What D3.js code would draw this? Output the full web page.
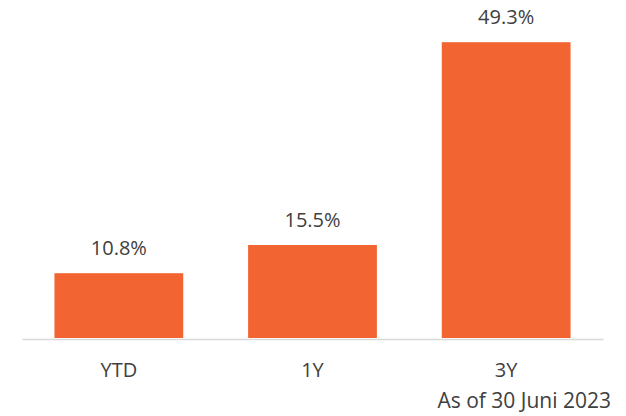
<!DOCTYPE html>
<html>
<head>
<meta charset="utf-8">
<script src="https://cdn.jsdelivr.net/npm/d3@7"></script>
<style>
  body { margin: 0; background: #fff; }
  text { font-family: "Open Sans", sans-serif; fill: #404040; }
</style>
</head>
<body>
<div class="chart"></div>
<script>
// returns per period, in percent
const categories = ["YTD", "1Y", "3Y"];
const values = [10.8, 15.5, 49.3];
const labels = ["10.8%", "15.5%", "49.3%"];
const note = "As of 30 Juni 2023";

const width = 626;
const height = 416;
const margin = { top: 38, right: 23, bottom: 77, left: 22 };

const svg = d3.select(".chart")
    .append("svg")
    .attr("width", width)
    .attr("height", height);

const x = d3.scaleBand()
    .domain(categories)
    .range([margin.left, width - margin.right])
    .paddingInner(0.335)
    .paddingOuter(0.1675);

const y = d3.scaleLinear()
    .domain([0, 50])
    .range([height - margin.bottom - 1, margin.top]);

// bars
svg.append("g")
    .selectAll("rect")
    .data(values)
    .join("rect")
    .attr("x", (d, i) => x(categories[i]))
    .attr("y", d => y(d))
    .attr("width", x.bandwidth())
    .attr("height", d => y(0) - y(d))
    .attr("fill", "#f26532");

// value labels
svg.append("g")
    .selectAll("text")
    .data(values)
    .join("text")
    .attr("x", (d, i) => x(categories[i]) + x.bandwidth() / 2)
    .attr("y", d => y(d) - 18)
    .attr("text-anchor", "middle")
    .style("font-size", "20px")
    .text((d, i) => labels[i]);

// x axis
const axis = svg.append("g")
    .attr("transform", `translate(0, ${y(0) + 1})`)
    .call(d3.axisBottom(x).tickSize(0).tickPadding(24).tickSizeOuter(0));
axis.select(".domain").attr("stroke", "#d9d9d9").attr("stroke-width", 1.5);
axis.selectAll(".tick text").style("font-size", "20px").attr("fill", "#404040");

svg.append("text")
    .attr("x", 611)
    .attr("y", 408)
    .attr("text-anchor", "end")
    .style("font-size", "21px")
    .text(note);
</script>
</body>
</html>
